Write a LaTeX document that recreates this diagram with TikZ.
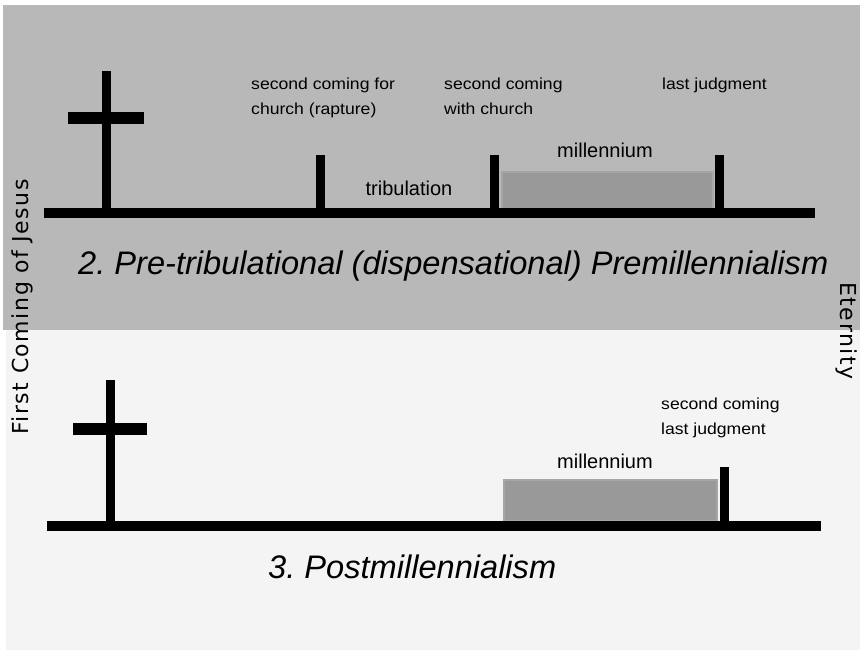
\documentclass[tikz,border=0pt]{standalone}
\usepackage{fontspec}
\setmainfont{Liberation Sans}
\newfontfamily\eventfont[FakeStretch=1.1]{Liberation Sans}
\newfontfamily\sidefont[LetterSpace=7]{DejaVu Sans}
\usetikzlibrary{positioning}
\frenchspacing

\definecolor{upperband}{RGB}{184,184,184}
\definecolor{lowerband}{RGB}{244,244,244}
\definecolor{millfill}{RGB}{153,153,153}
\definecolor{milledge}{RGB}{166,166,166}

\begin{document}
\begin{tikzpicture}[
    x=1pt, y=-1pt,
    axis/.style={line width=10pt},
    marker/.style={line width=9pt},
    beam/.style={line width=12pt},
    millbox/.style={fill=millfill, draw=milledge, line width=1.5pt},
    event/.style={font=\fontsize{16}{25}\eventfont, align=left, inner sep=0pt, anchor=north west},
    period/.style={font=\fontsize{20}{24}\selectfont, inner sep=0pt},
    heading/.style={font=\fontsize{32.6}{38}\selectfont\itshape, inner sep=0pt, anchor=base west},
    side/.style={font=\fontsize{22}{26}\sidefont, inner sep=0pt, anchor=base}
]
    \useasboundingbox (0,0) rectangle (860,654);
    \fill[white] (0,0) rectangle (860,654);
    \fill[upperband] (3,5) rectangle (860,330);
    \fill[lowerband] (6,330) rectangle (860,650);

    % 2. pre-tribulational premillennialism
    \fill[millbox] (502,172) rectangle (713,209);
    \draw[axis] (44,213) -- (815,213);
    \draw[marker] (106,71) -- (106,213);
    \draw[beam] (68,118) -- (144,118);
    \draw[marker] (320,155) -- (320,213);
    \draw[marker] (494,155) -- (494,213);
    \draw[marker] (719,155) -- (719,213);

    \node[event] (rapture) at (251,78) {second coming for\\church (rapture)};
    \node[event] (withchurch) at (444,78) {second coming\\with church};
    \node[event] (judgment) at (662,78) {last judgment};
    \node[period] (tribulation) at (409,188) {tribulation};
    \node[period] (millennium) at (605,150) {millennium};
    \node[heading] (pretrib) at (78,274) {2. Pre-tribulational (dispensational) Premillennialism};

    % 3. postmillennialism
    \fill[millbox] (504,480) rectangle (717,521);
    \draw[axis] (47,526) -- (821,526);
    \draw[marker] (110,380) -- (110,526);
    \draw[beam] (73,429) -- (147,429);
    \draw[marker] (724,467) -- (724,526);

    \node[event] (return) at (661,398) {second coming\\last judgment};
    \node[period] (postmill) at (605,461) {millennium};
    \node[heading] (postmillennial) at (268,578) {3. Postmillennialism};

    % side captions
    \node[side, rotate=90] (first) at (28,307) {First Coming of Jesus};
    \node[side, rotate=-90] (eternity) at (840,331) {Eternity};
\end{tikzpicture}
\end{document}
